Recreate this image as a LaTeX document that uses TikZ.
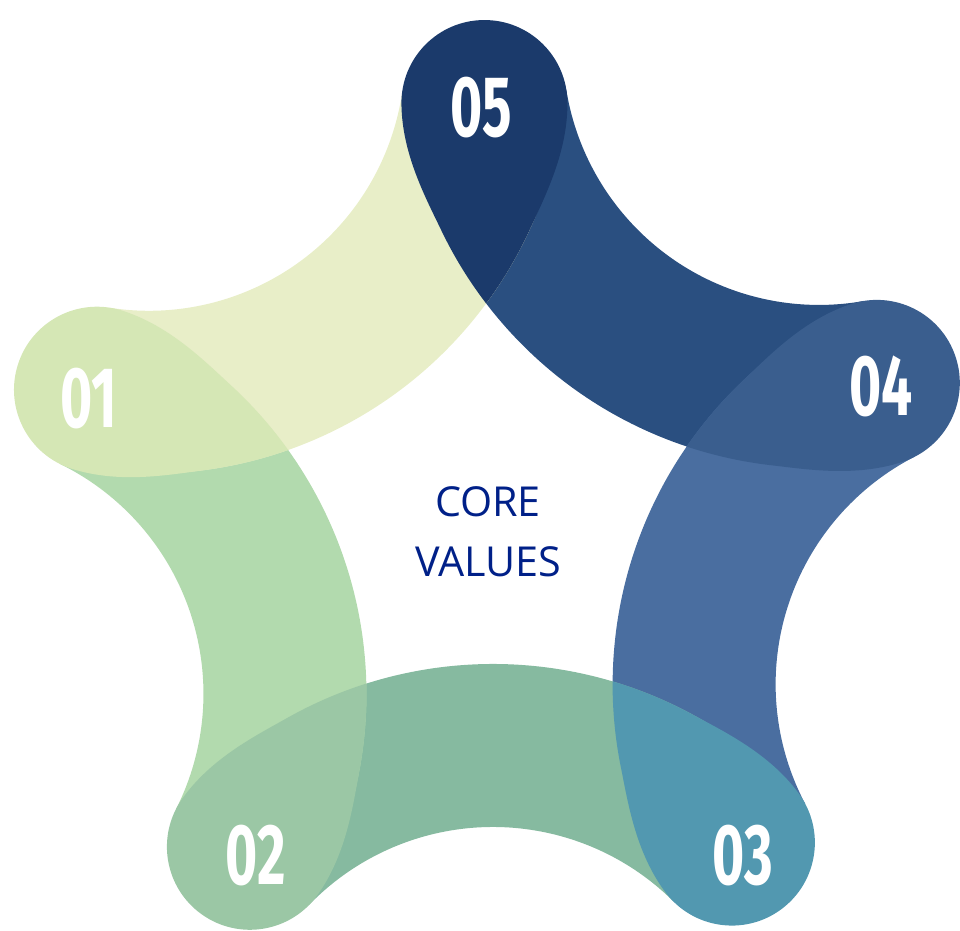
\documentclass[tikz,border=0pt]{standalone}
\usepackage{fontspec}
\setmainfont{Open Sans}
\newfontfamily\numfont{Fira Sans}
\definecolor{bandA}{HTML}{2A4F80}
\definecolor{bandB}{HTML}{4A6EA0}
\definecolor{bandC}{HTML}{86BAA0}
\definecolor{bandD}{HTML}{B2DAAE}
\definecolor{bandE}{HTML}{E8EEC8}
\definecolor{headA}{HTML}{1B3A6B}
\definecolor{headB}{HTML}{3A5E8E}
\definecolor{headC}{HTML}{5298B0}
\definecolor{headD}{HTML}{9BC7A5}
\definecolor{headE}{HTML}{D5E7B5}
\definecolor{corecol}{RGB}{0,32,136}
\begin{document}
\begin{tikzpicture}[x=0.02cm,y=0.02cm,
  numtxt/.style={text=white, inner sep=0pt,
    font=\numfont\bfseries\fontsize{49}{49}\selectfont},
  coretxt/.style={text=corecol, inner sep=0pt, anchor=base,
    font=\fontsize{23.5}{28}\selectfont}]
\useasboundingbox (0,0) rectangle (960,930);
% band centre distance, outer (notch) radius, inner radius, cap radius
\def\Dc{570}\def\ra{256}\def\rb{419}\def\rc{83}
\begin{scope}[shift={(488,417)}]
  % curved bands between neighbouring heads
  \foreach \ang/\col in {54.5/bandA, -17.5/bandB, -89.5/bandC, -161.5/bandD, 126.5/bandE}{
    \fill[\col, rotate=\ang-90] (0,\Dc) ++(224.68:\ra)
      arc[start angle=224.68, end angle=315.32, radius=\ra]
      -- ++(315.32:\rb-\ra)
      arc[start angle=315.32, end angle=224.68, radius=\rb] -- cycle;
  }
  % teardrop heads on top of the bands
  \foreach \ang/\col in {90.5/headA, 18.5/headB, -53.5/headC, -125.5/headD, 162.5/headE}{
    \fill[\col, rotate=\ang-90] (0,209.5)
      arc[start angle=216.9, end angle=205, radius=\rb]
      .. controls (-59.5,315.7) and (-\rc,360) .. (-\rc,410)
      arc[start angle=180, end angle=0, radius=\rc]
      .. controls (\rc,360) and (59.5,315.7) .. (44.7,284)
      arc[start angle=-25, end angle=-36.9, radius=\rb] -- cycle;
  }
\end{scope}
% numbers
\node[numtxt] (n05) at (481,822.5) {\scalebox{0.64}[1]{05}};
\node[numtxt] (n04) at (881,544) {\scalebox{0.64}[1]{04}};
\node[numtxt] (n03) at (742.5,74) {\scalebox{0.64}[1]{03}};
\node[numtxt] (n02) at (256,74) {\scalebox{0.64}[1]{02}};
\node[numtxt] (n01) at (88.5,531) {\scalebox{0.64}[1]{01}};
% centre title
\node[coretxt] (core) at (488,413) {CORE};
\node[coretxt] (values) at (488.5,353) {VALUES};
\end{tikzpicture}
\end{document}
